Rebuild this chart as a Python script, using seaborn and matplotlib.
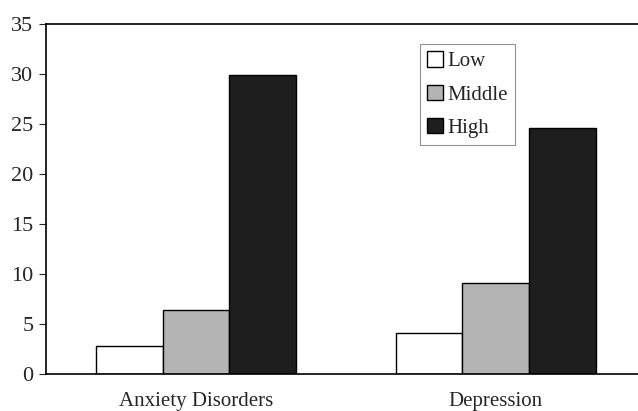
import pandas as pd
import matplotlib
matplotlib.use("Agg")
import matplotlib.pyplot as plt
import seaborn as sns

# values
disorders = ["Anxiety Disorders", "Depression"]
levels = ["Low", "Middle", "High"]
low_vals = [2.8, 4.1]
middle_vals = [6.4, 9.1]
high_vals = [29.9, 24.6]
level_colors = ["white", "#b4b4b4", "#1e1e1e"]
y_ticks = [0, 5, 10, 15, 20, 25, 30, 35]

df = pd.DataFrame({
    "disorder": disorders * 3,
    "level": [lv for lv in levels for _ in disorders],
    "value": low_vals + middle_vals + high_vals,
})

sns.set_style("white")
plt.rcParams["font.family"] = ["Liberation Serif", "DejaVu Serif"]

fig = plt.figure(figsize=(6.38, 4.11), dpi=100)
ax = fig.add_axes([46 / 638, 1 - 374 / 411, 1 - 46 / 638, 350 / 411])

sns.barplot(
    data=df, x="disorder", y="value", hue="level", order=disorders,
    hue_order=levels, palette=level_colors, saturation=1, width=0.667,
    gap=0, edgecolor="black", linewidth=1.0, ax=ax, legend=True,
)

ax.set_ylim(0, 35)
ax.set_xlim(-0.5, 1.475)
ax.set_yticks(y_ticks)
ax.set_yticklabels([str(t) for t in y_ticks], fontsize=16)
ax.tick_params(axis="y", direction="out", length=5, width=0.8, pad=4, left=True)
ax.tick_params(axis="x", length=0, pad=13, labelsize=15)
ax.set_xlabel("")
ax.set_ylabel("")

for side in ["left", "bottom", "top"]:
    ax.spines[side].set_visible(True)
    ax.spines[side].set_color("black")
    ax.spines[side].set_linewidth(1.2)
ax.spines["right"].set_visible(False)

handles, labels = ax.get_legend_handles_labels()
leg = ax.legend(
    handles, labels, loc="upper left",
    bbox_to_anchor=(420 / 638, 1 - 44 / 411), bbox_transform=fig.transFigure,
    fontsize=15, frameon=True, fancybox=False, edgecolor="#777777",
    handlelength=0.75, handleheight=0.75, handletextpad=0.2,
    labelspacing=0.65, borderpad=0.35, borderaxespad=0,
)
leg.get_frame().set_linewidth(0.8)

fig.savefig("out.png", dpi=100, facecolor="white")
